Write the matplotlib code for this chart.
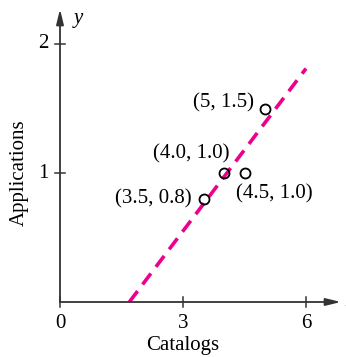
import matplotlib
matplotlib.use("Agg")
import matplotlib.pyplot as plt
import numpy as np

# Data
catalogs = [3.5, 4.0, 4.5, 5.0]
applications = [0.8, 1.0, 1.0, 1.5]
point_labels = ["(3.5, 0.8)", "(4.0, 1.0)", "(4.5, 1.0)", "(5, 1.5)"]
x_ticks = [0, 3, 6]
y_ticks = [1, 2]

plt.rcParams['font.family'] = ['Liberation Serif', 'DejaVu Serif']

fig = plt.figure(figsize=(3.46, 3.57), dpi=100)
ax = fig.add_axes([0, 0, 1, 1])
ax.set_xlim(-60 / 41, (346 - 60) / 41)
ax.set_ylim(-(357 - 302) / 129, 302 / 129)
ax.axis('off')

axis_color = '#333333'
fs = 15

# Regression line
slope, intercept = np.polyfit(catalogs, applications, 1)
x0 = -intercept / slope
xl = np.array([x0, 6.0])
ax.plot(xl, slope * xl + intercept, color='#EC008C', lw=2.6,
        dashes=(3.8, 2.3), zorder=2, solid_capstyle='butt')

# Axes with arrows
ax.annotate('', xy=(6.85, 0), xytext=(0, 0),
            arrowprops=dict(arrowstyle='-|>,head_length=0.9,head_width=0.22',
                            color=axis_color, lw=1.3, shrinkA=0, shrinkB=0))
ax.annotate('', xy=(0, 2.27), xytext=(0, 0),
            arrowprops=dict(arrowstyle='-|>,head_length=0.9,head_width=0.22',
                            color=axis_color, lw=1.3, shrinkA=0, shrinkB=0))

# Ticks
for xt in x_ticks:
    ax.plot([xt, xt], [-0.04, 0.04], color=axis_color, lw=1.1)
    ax.text(xt, -0.09, str(xt), ha='center', va='top', fontsize=fs)
for yt in y_ticks:
    ax.plot([-0.13, 0.13], [yt, yt], color=axis_color, lw=1.1)
    ax.text(-0.28, yt, str(yt), ha='right', va='center', fontsize=fs)

ax.text(0.44, 2.2, 'y', fontsize=fs, style='italic', ha='center', va='center')
ax.text(6.95, 0.0, 'x', fontsize=fs, style='italic', ha='left', va='center')

ax.text(3, -0.34, 'Catalogs', ha='center', va='center', fontsize=fs)
ax.text(-1.0, 1.0, 'Applications', ha='center', va='center', fontsize=fs, rotation=90)

# Points
ax.plot(catalogs, applications, 'o', ms=7.2, mfc='none', mec='black', mew=1.3, zorder=3)

offsets = [(-0.28, 0.0, 'right', 'center'),
           (-0.8, 0.15, 'center', 'center'),
           (-0.2, -0.16, 'left', 'center'),
           (-0.28, 0.04, 'right', 'center')]
for (x, y, lab, (dx, dy, ha, va)) in zip(catalogs, applications, point_labels, offsets):
    ax.text(x + dx, y + dy, lab, ha=ha, va=va, fontsize=fs)

fig.savefig('out.png', dpi=100)
